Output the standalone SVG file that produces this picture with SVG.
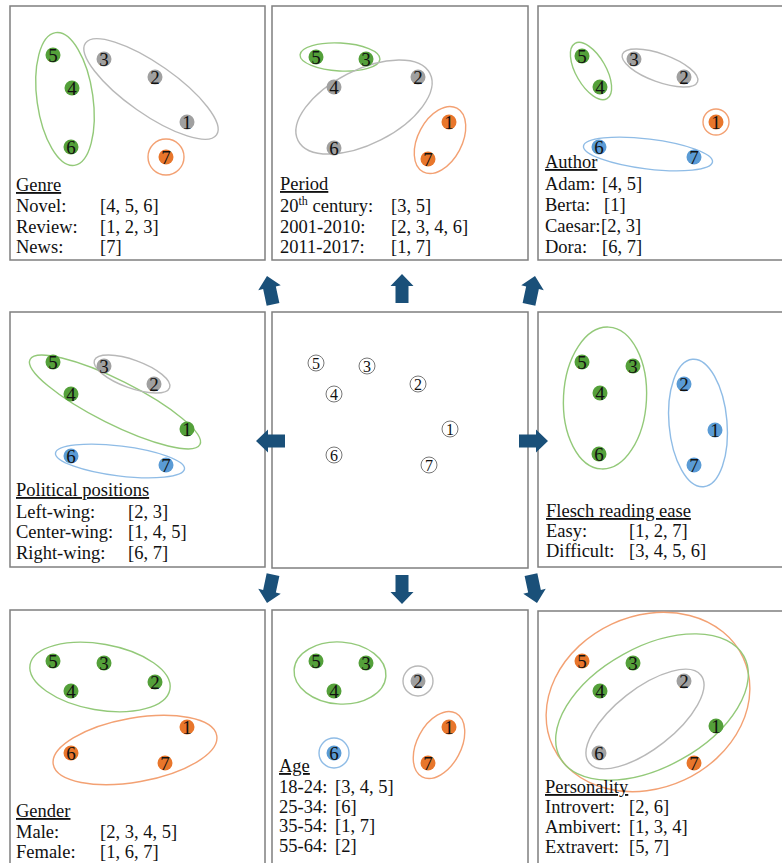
<svg xmlns="http://www.w3.org/2000/svg" width="782" height="863" viewBox="0 0 782 863">
<defs>
<style>
.frame{fill:#fff;stroke:#7f7f7f;stroke-width:1.5}
.t{font-family:"Liberation Serif","Times New Roman",serif;font-size:18.5px;fill:#111}
.u{text-decoration:underline}
.n{font-family:"Liberation Serif","Times New Roman",serif;font-size:19px;fill:#111;text-anchor:middle}
.cn{font-family:"Liberation Serif","Times New Roman",serif;font-size:16px;fill:#111;text-anchor:middle}
.dg{fill:#54A03A}
.dy{fill:#A0A0A0}
.do{fill:#E8762B}
.db{fill:#5A9BD5}
.dc{fill:#fff;stroke:#777;stroke-width:1}
.eg,.ey,.eo,.eb{fill:none;stroke-width:1.4}
.eg{stroke:#93C979}
.ey{stroke:#B8B8B8}
.eo{stroke:#F3A173}
.eb{stroke:#8FBCE6}
.arr{fill:#1A5079}
</style>
<path id="arrow" d="M0,0 L11.5,12 L6.5,12 L6.5,29 L-6.5,29 L-6.5,12 L-11.5,12 Z"/>
</defs>

<g id="panel-genre">
<rect class="frame" x="10" y="6" width="255" height="254"/>
<ellipse class="eg" cx="65" cy="99" rx="28" ry="67" transform="rotate(-8 65 99)"/>
<ellipse class="ey" cx="151" cy="89" rx="80" ry="25" transform="rotate(35 151 89)"/>
<circle class="eo" cx="166" cy="157" r="18"/>
<circle class="dg" cx="53" cy="55" r="7.5"/><text class="n" x="53" y="61.5">5</text>
<circle class="dy" cx="104" cy="59" r="7.5"/><text class="n" x="104" y="65.5">3</text>
<circle class="dy" cx="155" cy="77" r="7.5"/><text class="n" x="155" y="83.5">2</text>
<circle class="dg" cx="72" cy="88" r="7.5"/><text class="n" x="72" y="94.5">4</text>
<circle class="dy" cx="187" cy="122" r="7.5"/><text class="n" x="187" y="128.5">1</text>
<circle class="dg" cx="71" cy="147" r="7.5"/><text class="n" x="71" y="153.5">6</text>
<circle class="do" cx="166" cy="157" r="7.5"/><text class="n" x="166" y="163.5">7</text>
<text class="t u" x="16" y="191">Genre</text>
<text class="t" y="212"><tspan x="16">Novel:</tspan><tspan x="100">[4, 5, 6]</tspan></text>
<text class="t" y="233"><tspan x="16">Review:</tspan><tspan x="100">[1, 2, 3]</tspan></text>
<text class="t" y="253"><tspan x="16">News:</tspan><tspan x="100">[7]</tspan></text>
</g>

<g id="panel-period">
<rect class="frame" x="272" y="6" width="256" height="254"/>
<ellipse class="eg" cx="340" cy="57" rx="40" ry="14" transform="rotate(3 340 57)"/>
<ellipse class="ey" cx="364" cy="107" rx="74" ry="37" transform="rotate(-27 364 107)"/>
<ellipse class="eo" cx="440" cy="140" rx="22" ry="36" transform="rotate(28 440 140)"/>
<circle class="dg" cx="316" cy="57" r="7.5"/><text class="n" x="316" y="63.5">5</text>
<circle class="dg" cx="366" cy="59" r="7.5"/><text class="n" x="366" y="65.5">3</text>
<circle class="dy" cx="418" cy="77" r="7.5"/><text class="n" x="418" y="83.5">2</text>
<circle class="dy" cx="334" cy="87" r="7.5"/><text class="n" x="334" y="93.5">4</text>
<circle class="do" cx="449" cy="122" r="7.5"/><text class="n" x="449" y="128.5">1</text>
<circle class="dy" cx="334" cy="148" r="7.5"/><text class="n" x="334" y="154.5">6</text>
<circle class="do" cx="428" cy="159" r="7.5"/><text class="n" x="428" y="165.5">7</text>
<text class="t u" x="280" y="190">Period</text>
<text class="t" y="212"><tspan x="280">20</tspan><tspan font-size="12" dy="-7">th</tspan><tspan dy="7"> century:</tspan><tspan x="391">[3, 5]</tspan></text>
<text class="t" y="233"><tspan x="280">2001-2010:</tspan><tspan x="391">[2, 3, 4, 6]</tspan></text>
<text class="t" y="253"><tspan x="280">2011-2017:</tspan><tspan x="391">[1, 7]</tspan></text>
</g>

<g id="panel-author">
<rect class="frame" x="538" y="6" width="260" height="254"/>
<ellipse class="eg" cx="591" cy="71" rx="15" ry="32" transform="rotate(-30 591 71)"/>
<ellipse class="ey" cx="660" cy="68" rx="40" ry="14" transform="rotate(20 660 68)"/>
<circle class="eo" cx="716" cy="122" r="13"/>
<ellipse class="eb" cx="648" cy="154" rx="65" ry="15" transform="rotate(7 648 154)"/>
<circle class="dg" cx="582" cy="56" r="7.5"/><text class="n" x="582" y="62.5">5</text>
<circle class="dy" cx="634" cy="59" r="7.5"/><text class="n" x="634" y="65.5">3</text>
<circle class="dy" cx="684" cy="77" r="7.5"/><text class="n" x="684" y="83.5">2</text>
<circle class="dg" cx="600" cy="87" r="7.5"/><text class="n" x="600" y="93.5">4</text>
<circle class="do" cx="716" cy="122" r="7.5"/><text class="n" x="716" y="128.5">1</text>
<circle class="db" cx="599" cy="147" r="7.5"/><text class="n" x="599" y="153.5">6</text>
<circle class="db" cx="694" cy="157" r="7.5"/><text class="n" x="694" y="163.5">7</text>
<text class="t u" x="545" y="168">Author</text>
<text class="t" y="190"><tspan x="545">Adam:</tspan><tspan x="602">[4, 5]</tspan></text>
<text class="t" y="211"><tspan x="545">Berta:</tspan><tspan x="604">[1]</tspan></text>
<text class="t" y="232"><tspan x="545">Caesar:</tspan><tspan x="601">[2, 3]</tspan></text>
<text class="t" y="253"><tspan x="545">Dora:</tspan><tspan x="602">[6, 7]</tspan></text>
</g>

<g id="panel-political">
<rect class="frame" x="10" y="312" width="255" height="255"/>
<ellipse class="eg" cx="115" cy="402" rx="95" ry="22" transform="rotate(26.6 115 402)"/>
<ellipse class="ey" cx="132" cy="374" rx="40" ry="14" transform="rotate(20 132 374)"/>
<ellipse class="eb" cx="120" cy="461" rx="65" ry="15" transform="rotate(7 120 461)"/>
<circle class="dg" cx="53" cy="362" r="7.5"/><text class="n" x="53" y="368.5">5</text>
<circle class="dy" cx="104" cy="366" r="7.5"/><text class="n" x="104" y="372.5">3</text>
<circle class="dy" cx="154" cy="384" r="7.5"/><text class="n" x="154" y="390.5">2</text>
<circle class="dg" cx="71" cy="394" r="7.5"/><text class="n" x="71" y="400.5">4</text>
<circle class="dg" cx="187" cy="429" r="7.5"/><text class="n" x="187" y="435.5">1</text>
<circle class="db" cx="71" cy="456" r="7.5"/><text class="n" x="71" y="462.5">6</text>
<circle class="db" cx="166" cy="465" r="7.5"/><text class="n" x="166" y="471.5">7</text>
<text class="t u" x="16" y="496">Political positions</text>
<text class="t" y="518"><tspan x="16">Left-wing:</tspan><tspan x="128">[2, 3]</tspan></text>
<text class="t" y="538"><tspan x="16">Center-wing:</tspan><tspan x="128">[1, 4, 5]</tspan></text>
<text class="t" y="559"><tspan x="16">Right-wing:</tspan><tspan x="128">[6, 7]</tspan></text>
</g>

<g id="panel-center">
<rect class="frame" x="272" y="312" width="256" height="256"/>
<circle class="dc" cx="316" cy="363" r="8"/><text class="cn" x="316" y="368.5">5</text>
<circle class="dc" cx="367" cy="366" r="8"/><text class="cn" x="367" y="371.5">3</text>
<circle class="dc" cx="418" cy="384" r="8"/><text class="cn" x="418" y="389.5">2</text>
<circle class="dc" cx="334" cy="394" r="8"/><text class="cn" x="334" y="399.5">4</text>
<circle class="dc" cx="450" cy="429" r="8"/><text class="cn" x="450" y="434.5">1</text>
<circle class="dc" cx="334" cy="455" r="8"/><text class="cn" x="334" y="460.5">6</text>
<circle class="dc" cx="429" cy="465" r="8"/><text class="cn" x="429" y="470.5">7</text>
</g>

<g id="panel-flesch">
<rect class="frame" x="538" y="312" width="260" height="255"/>
<ellipse class="eg" cx="605" cy="398" rx="41.5" ry="71" transform="rotate(3 605 398)"/>
<ellipse class="eb" cx="698" cy="423" rx="29" ry="64" transform="rotate(-5 698 423)"/>
<circle class="dg" cx="582" cy="362" r="7.5"/><text class="n" x="582" y="368.5">5</text>
<circle class="dg" cx="633" cy="366" r="7.5"/><text class="n" x="633" y="372.5">3</text>
<circle class="db" cx="684" cy="384" r="7.5"/><text class="n" x="684" y="390.5">2</text>
<circle class="dg" cx="600" cy="393" r="7.5"/><text class="n" x="600" y="399.5">4</text>
<circle class="db" cx="715" cy="430" r="7.5"/><text class="n" x="715" y="436.5">1</text>
<circle class="dg" cx="599" cy="454" r="7.5"/><text class="n" x="599" y="460.5">6</text>
<circle class="db" cx="694" cy="465" r="7.5"/><text class="n" x="694" y="471.5">7</text>
<text class="t u" x="546" y="517">Flesch reading ease</text>
<text class="t" y="537"><tspan x="546">Easy:</tspan><tspan x="629">[1, 2, 7]</tspan></text>
<text class="t" y="557"><tspan x="546">Difficult:</tspan><tspan x="629">[3, 4, 5, 6]</tspan></text>
</g>

<g id="panel-gender">
<rect class="frame" x="10" y="610" width="255" height="262"/>
<ellipse class="eg" cx="100" cy="677" rx="71" ry="33" transform="rotate(10 100 677)"/>
<ellipse class="eo" cx="135" cy="750" rx="83" ry="32" transform="rotate(-10 135 750)"/>
<circle class="dg" cx="53" cy="661" r="7.5"/><text class="n" x="53" y="667.5">5</text>
<circle class="dg" cx="104" cy="663" r="7.5"/><text class="n" x="104" y="669.5">3</text>
<circle class="dg" cx="155" cy="682" r="7.5"/><text class="n" x="155" y="688.5">2</text>
<circle class="dg" cx="71" cy="691" r="7.5"/><text class="n" x="71" y="697.5">4</text>
<circle class="do" cx="187" cy="727" r="7.5"/><text class="n" x="187" y="733.5">1</text>
<circle class="do" cx="71" cy="753" r="7.5"/><text class="n" x="71" y="759.5">6</text>
<circle class="do" cx="165" cy="763" r="7.5"/><text class="n" x="165" y="769.5">7</text>
<text class="t u" x="16" y="817">Gender</text>
<text class="t" y="838"><tspan x="16">Male:</tspan><tspan x="100">[2, 3, 4, 5]</tspan></text>
<text class="t" y="858"><tspan x="16">Female:</tspan><tspan x="100">[1, 6, 7]</tspan></text>
</g>

<g id="panel-age">
<rect class="frame" x="272" y="610" width="256" height="262"/>
<ellipse class="eg" cx="340" cy="673" rx="46" ry="31" transform="rotate(4 340 673)"/>
<circle class="ey" cx="418" cy="681" r="15"/>
<ellipse class="eo" cx="439" cy="745" rx="22" ry="36" transform="rotate(28 439 745)"/>
<circle class="eb" cx="334" cy="753" r="15"/>
<circle class="dg" cx="316" cy="661" r="7.5"/><text class="n" x="316" y="667.5">5</text>
<circle class="dg" cx="366" cy="663" r="7.5"/><text class="n" x="366" y="669.5">3</text>
<circle class="dy" cx="418" cy="681" r="7.5"/><text class="n" x="418" y="687.5">2</text>
<circle class="dg" cx="334" cy="691" r="7.5"/><text class="n" x="334" y="697.5">4</text>
<circle class="do" cx="449" cy="727" r="7.5"/><text class="n" x="449" y="733.5">1</text>
<circle class="db" cx="334" cy="753" r="7.5"/><text class="n" x="334" y="759.5">6</text>
<circle class="do" cx="428" cy="763" r="7.5"/><text class="n" x="428" y="769.5">7</text>
<text class="t u" x="279" y="772">Age</text>
<text class="t" y="793"><tspan x="279">18-24:</tspan><tspan x="335">[3, 4, 5]</tspan></text>
<text class="t" y="813"><tspan x="279">25-34:</tspan><tspan x="335">[6]</tspan></text>
<text class="t" y="832"><tspan x="279">35-54:</tspan><tspan x="335">[1, 7]</tspan></text>
<text class="t" y="852"><tspan x="279">55-64:</tspan><tspan x="335">[2]</tspan></text>
</g>

<g id="panel-personality">
<rect class="frame" x="538" y="611" width="260" height="262"/>
<ellipse class="eo" cx="648" cy="702" rx="105" ry="86" transform="rotate(-25 648 702)"/>
<ellipse class="eg" cx="652" cy="707" rx="105" ry="60" transform="rotate(-29 652 707)"/>
<ellipse class="ey" cx="645" cy="719" rx="71" ry="30" transform="rotate(-38 645 719)"/>
<circle class="do" cx="582" cy="661" r="7.5"/><text class="n" x="582" y="667.5">5</text>
<circle class="dg" cx="633" cy="663" r="7.5"/><text class="n" x="633" y="669.5">3</text>
<circle class="dy" cx="684" cy="681" r="7.5"/><text class="n" x="684" y="687.5">2</text>
<circle class="dg" cx="600" cy="691" r="7.5"/><text class="n" x="600" y="697.5">4</text>
<circle class="dg" cx="716" cy="726" r="7.5"/><text class="n" x="716" y="732.5">1</text>
<circle class="dy" cx="599" cy="753" r="7.5"/><text class="n" x="599" y="759.5">6</text>
<circle class="do" cx="694" cy="763" r="7.5"/><text class="n" x="694" y="769.5">7</text>
<text class="t u" x="545" y="793">Personality</text>
<text class="t" y="813"><tspan x="545">Introvert:</tspan><tspan x="629">[2, 6]</tspan></text>
<text class="t" y="833"><tspan x="545">Ambivert:</tspan><tspan x="629">[1, 3, 4]</tspan></text>
<text class="t" y="853"><tspan x="545">Extravert:</tspan><tspan x="629">[5, 7]</tspan></text>
</g>

<g id="connectors" class="arr">
<use href="#arrow" transform="translate(267 276) rotate(-12)"/>
<use href="#arrow" transform="translate(402 274)"/>
<use href="#arrow" transform="translate(535 276) rotate(12)"/>
<use href="#arrow" transform="translate(256 441) rotate(-90)"/>
<use href="#arrow" transform="translate(548 441) rotate(90)"/>
<use href="#arrow" transform="translate(267 603) rotate(192)"/>
<use href="#arrow" transform="translate(402 604) rotate(180)"/>
<use href="#arrow" transform="translate(537 603) rotate(168)"/>
</g>
</svg>
